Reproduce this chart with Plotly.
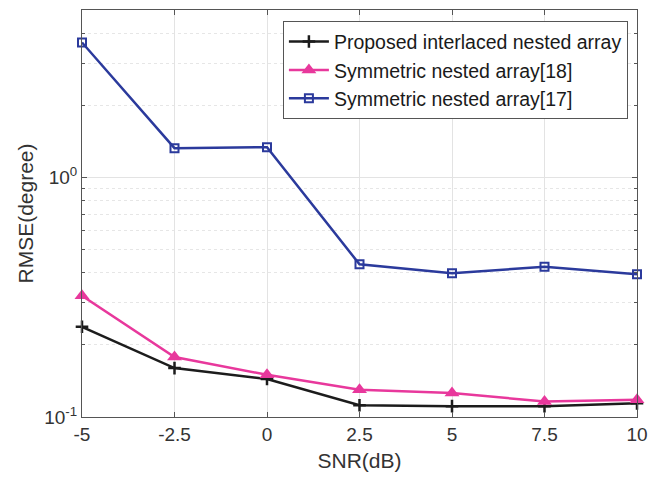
import plotly.graph_objects as go

snr = [-5, -2.5, 0, 2.5, 5, 7.5, 10]
proposed = [0.238, 0.160, 0.144, 0.112, 0.111, 0.111, 0.114]
sym18 = [0.321, 0.178, 0.150, 0.130, 0.126, 0.116, 0.118]
sym17 = [3.66, 1.325, 1.337, 0.434, 0.398, 0.424, 0.394]

names = ["Proposed interlaced nested array", "Symmetric nested array[18]", "Symmetric nested array[17]"]
xticks = [-5, -2.5, 0, 2.5, 5, 7.5, 10]
xticklabels = ["-5", "-2.5", "0", "2.5", "5", "7.5", "10"]
yticks = [0.1, 1]
yticklabels = ["10<sup>-1</sup>", "10<sup>0</sup>"]
yminor = [0.2, 0.3, 0.4, 0.5, 0.6, 0.7, 0.8, 0.9, 2, 3, 4]

FONT = "Liberation Sans, Arial, sans-serif"

fig = go.Figure()
fig.add_trace(go.Scatter(x=snr, y=proposed, name=names[0], mode="lines+markers", cliponaxis=False,
                         line=dict(color="#1c1c1c", width=2.5),
                         marker=dict(symbol="cross-thin", size=9, line=dict(color="#1c1c1c", width=2.5))))
fig.add_trace(go.Scatter(x=snr, y=sym18, name=names[1], mode="lines+markers", cliponaxis=False,
                         line=dict(color="#e8389c", width=2.5),
                         marker=dict(symbol="triangle-up", size=13, color="#e8389c")))
fig.add_trace(go.Scatter(x=snr, y=sym17, name=names[2], mode="lines+markers", cliponaxis=False,
                         line=dict(color="#2b3a9c", width=2.5),
                         marker=dict(symbol="square-open", size=8, color="#2b3a9c", line=dict(width=2))))

fig.update_layout(
    width=649, height=481,
    margin=dict(l=82, r=12, t=10, b=64),
    paper_bgcolor="white", plot_bgcolor="white",
    font=dict(family=FONT, size=19, color="#333333"),
    showlegend=True,
    legend=dict(x=0.362, y=0.972, xanchor="left", yanchor="top",
                bgcolor="white", bordercolor="#555555", borderwidth=1,
                font=dict(size=19.5, color="#1a1a1a"), tracegroupgap=0,
                itemwidth=40),
    xaxis=dict(range=[-5, 10], tickvals=xticks, ticktext=xticklabels,
               showgrid=True, gridcolor="#e3e3e3", gridwidth=1,
               ticks="inside", ticklen=5, tickcolor="#555555",
               showline=True, linecolor="#555555", linewidth=1, mirror="ticks",
               zeroline=False, tickfont=dict(size=19, color="#333333"),
               ticklabeloverflow="allow", automargin=False,
               title=dict(text="SNR(dB)", font=dict(size=21, color="#333333"), standoff=9)),
    yaxis=dict(type="log", range=[-1, 0.699], tickvals=yticks, ticktext=yticklabels,
               showgrid=True, gridcolor="#e3e3e3", gridwidth=1,
               ticks="inside", ticklen=5, tickcolor="#555555",
               showline=True, linecolor="#555555", linewidth=1, mirror="ticks",
               zeroline=False, tickfont=dict(size=19, color="#333333"),
               ticklabeloverflow="allow", automargin=False,
               minor=dict(tickvals=yminor, showgrid=True, gridcolor="#e6e6e6",
                          griddash="dot", ticks="inside", ticklen=3, tickcolor="#555555"),
               title=dict(text="RMSE(degree)", font=dict(size=21, color="#333333"), standoff=4)),
)

fig.write_html("out.html")
